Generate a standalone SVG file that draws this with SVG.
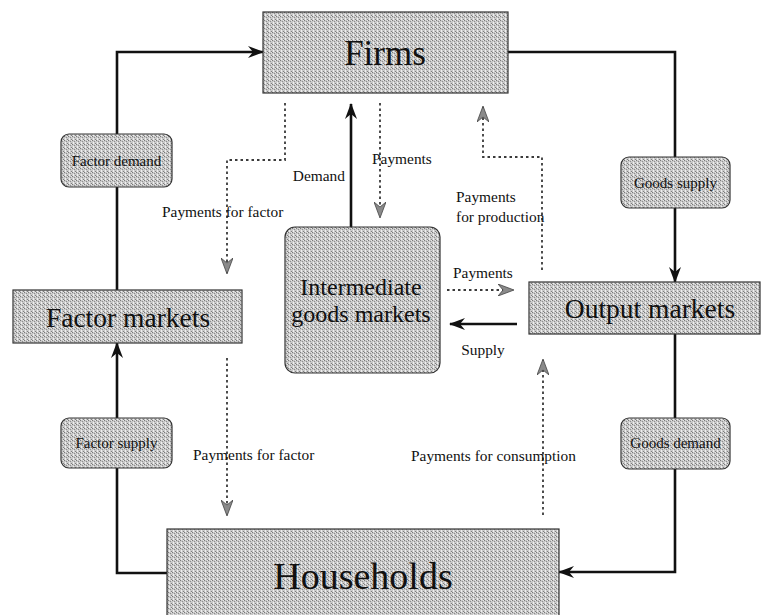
<svg xmlns="http://www.w3.org/2000/svg" width="762" height="615" viewBox="0 0 762 615">
<style>
.box{fill:url(#stip);stroke:#333;stroke-width:1.2}
.big{font-family:"Liberation Serif",serif;fill:#111;text-anchor:middle}
.lbl{font-family:"Liberation Serif",serif;font-size:15.4px;fill:#111}
.small{font-family:"Liberation Serif",serif;font-size:15px;fill:#111;text-anchor:middle}
.solid{fill:none;stroke:#111;stroke-width:2.6;marker-end:url(#ah)}
.dash{fill:none;stroke:#3a3a3a;stroke-width:1.8;stroke-dasharray:2.5,3;marker-end:url(#dh)}
</style>
<defs>
<pattern id="stip" width="4" height="4" patternUnits="userSpaceOnUse">
<rect width="4" height="4" fill="#c9c9c9"/>
<rect x="0" y="0" width="1" height="1" fill="#7a7a7a"/>
<rect x="2" y="1" width="1" height="1" fill="#8e8e8e"/>
<rect x="1" y="2" width="1" height="1" fill="#eeeeee"/>
<rect x="3" y="3" width="1" height="1" fill="#7f7f7f"/>
<rect x="3" y="0" width="1" height="1" fill="#e6e6e6"/>
<rect x="1" y="3" width="1" height="1" fill="#f0f0f0"/>
</pattern>
<marker id="ah" viewBox="0 0 16 12" refX="15" refY="6" markerWidth="16" markerHeight="12" markerUnits="userSpaceOnUse" orient="auto">
<path d="M0,0 L16,6 L0,12 L5,6 Z" fill="#111"/>
</marker>
<marker id="dh" viewBox="0 0 16 12" refX="15" refY="6" markerWidth="16" markerHeight="12" markerUnits="userSpaceOnUse" orient="auto">
<path d="M0,0 L16,6 L0,12 L5,6 Z" fill="#8a8a8a" stroke="#444" stroke-width="0.8"/>
</marker>
</defs>
<rect width="762" height="615" fill="#fff"/>
<g id="connectors">
<path class="solid" d="M117,290 V52 H263"/>
<path class="solid" d="M508,52 H675 V282"/>
<path class="solid" d="M675,334 V572 H559"/>
<path class="solid" d="M167,573 H117 V343"/>
<path class="solid" d="M351,227 V104"/>
<path class="solid" d="M517,324 H450"/>
<path class="dash" d="M380,103 V217"/>
<path class="dash" d="M285,103 V160 H227 V273"/>
<path class="dash" d="M542,270 V157 H483 V107"/>
<path class="dash" d="M447,290 H513"/>
<path class="dash" d="M227,358 V515"/>
<path class="dash" d="M543,515 V360"/>
</g>
<g id="labels">
<text class="lbl" x="372" y="164">Payments</text>
<text class="lbl" x="345" y="181" text-anchor="end">Demand</text>
<text class="lbl" x="162" y="217">Payments for factor</text>
<text class="lbl" x="456" y="202">Payments</text>
<text class="lbl" x="456" y="222">for production</text>
<text class="lbl" x="453" y="278">Payments</text>
<text class="lbl" x="483" y="355" text-anchor="middle">Supply</text>
<text class="lbl" x="193" y="460">Payments for factor</text>
<text class="lbl" x="411" y="461">Payments for consumption</text>
</g>
<g id="firms">
<rect class="box" x="263" y="12" width="245" height="81"/>
<text class="big" x="385" y="65" font-size="35">Firms</text>
</g>
<g id="factor-demand">
<rect class="box" x="61" y="134" width="111" height="53" rx="8"/>
<text class="small" x="116.5" y="166">Factor demand</text>
</g>
<g id="goods-supply">
<rect class="box" x="621" y="157" width="109" height="51" rx="8"/>
<text class="small" x="675.5" y="188">Goods supply</text>
</g>
<g id="factor-markets">
<rect class="box" x="13" y="290" width="229" height="53"/>
<text class="big" x="128" y="327" font-size="27.5">Factor markets</text>
</g>
<g id="intermediate">
<rect class="box" x="285" y="227" width="155" height="146" rx="10"/>
<text class="big" x="361" y="295" font-size="24">Intermediate</text>
<text class="big" x="361" y="322" font-size="24">goods markets</text>
</g>
<g id="output-markets">
<rect class="box" x="529" y="282" width="231" height="52"/>
<text class="big" x="650" y="318" font-size="27.5">Output markets</text>
</g>
<g id="factor-supply">
<rect class="box" x="61" y="418" width="111" height="50" rx="8"/>
<text class="small" x="116.5" y="448">Factor supply</text>
</g>
<g id="goods-demand">
<rect class="box" x="621" y="418" width="109" height="51" rx="8"/>
<text class="small" x="675.5" y="448">Goods demand</text>
</g>
<g id="households">
<rect class="box" x="167" y="529" width="392" height="92"/>
<text class="big" x="363" y="589" font-size="38">Households</text>
</g>
</svg>
